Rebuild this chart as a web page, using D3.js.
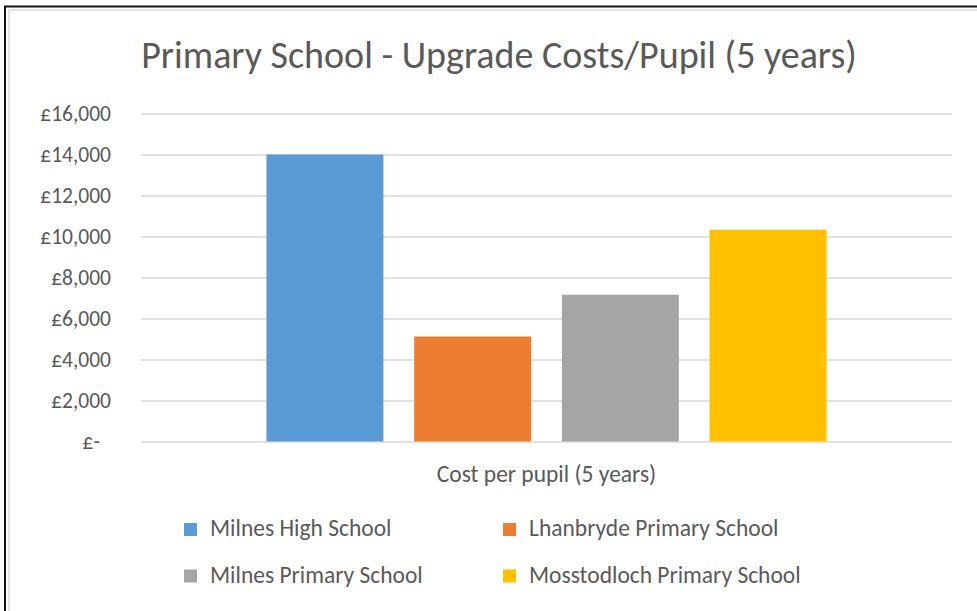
<!DOCTYPE html>
<html>
<head>
<meta charset="utf-8">
<script src="https://cdn.jsdelivr.net/npm/d3@7"></script>
<style>
  html, body { margin: 0; padding: 0; background: #fff; }
  svg { display: block; font-family: Carlito, Calibri, Lato, sans-serif; }
</style>
</head>
<body>
<div id="chart"></div>
<script>
const categories = ["Cost per pupil (5 years)"];
const schools = [
  "Milnes High School",
  "Lhanbryde Primary School",
  "Milnes Primary School",
  "Mosstodloch Primary School",
];
const costs = [14000, 5120, 7160, 10330];
const colors = ["#5B9BD5", "#ED7D31", "#A5A5A5", "#FFC000"];
const yTicks = [0, 2000, 4000, 6000, 8000, 10000, 12000, 14000, 16000];

const W = 977, H = 611;
const M = { top: 113.5, right: 25, bottom: 169.5, left: 141 };
const TEXT = "#595959";

const svg = d3.select("#chart").append("svg")
  .attr("width", W).attr("height", H);

// screenshot frame
svg.append("rect").attr("x", 9).attr("y", 10)
  .attr("width", W).attr("height", H)
  .attr("fill", "none").attr("stroke", "#e3e3e3").attr("stroke-width", 2);
svg.append("path")
  .attr("d", `M5,${H} V6.5 H${W}`)
  .attr("fill", "none").attr("stroke", "#111").attr("stroke-width", 2);

svg.append("text")
  .attr("x", 499)
  .attr("y", 68)
  .attr("text-anchor", "middle")
  .attr("font-size", 38)
  .attr("fill", TEXT)
  .text("Primary School - Upgrade Costs/Pupil (5 years)");

const y = d3.scaleLinear().domain([0, 16000]).range([H - M.bottom, M.top]);
const x0 = d3.scaleBand().domain(categories)
  .range([M.left, W - M.right]).paddingInner(0).paddingOuter(0.224);
const x1 = d3.scaleBand().domain(schools)
  .range([0, x0.bandwidth()]).paddingInner(0.208);

// gridlines
svg.append("g")
  .attr("transform", `translate(${M.left},0)`)
  .call(d3.axisLeft(y).tickValues(yTicks).tickSize(-(W - M.right - M.left)).tickFormat(""))
  .call(g => g.select(".domain").remove())
  .call(g => g.selectAll("line").attr("stroke", "#d9d9d9").attr("stroke-width", 1.5));

// y tick labels
const fmt = d3.format(",");
svg.append("g")
  .attr("transform", `translate(${M.left - 30},0)`)
  .call(d3.axisLeft(y).tickValues(yTicks).tickSize(0).tickPadding(0)
    .tickFormat(d => d === 0 ? "£-" : "£" + fmt(d)))
  .call(g => g.select(".domain").remove())
  .call(g => g.selectAll("text")
    .attr("font-family", "Carlito, Calibri, Lato, sans-serif")
    .attr("font-size", 21.5).attr("fill", TEXT)
    .attr("dx", d => d === 0 ? -11 : 0));

// bars
const groups = svg.append("g").selectAll("g")
  .data(categories).join("g")
  .attr("transform", c => `translate(${x0(c)},0)`);
groups.selectAll("rect")
  .data(() => schools.map((s, i) => ({ s, v: costs[i], c: colors[i] })))
  .join("rect")
  .attr("x", d => x1(d.s))
  .attr("y", d => y(d.v))
  .attr("width", x1.bandwidth())
  .attr("height", d => y(0) - y(d.v))
  .attr("fill", d => d.c);

// category label
svg.append("g").selectAll("text")
  .data(categories).join("text")
  .attr("x", c => x0(c) + x0.bandwidth() / 2)
  .attr("y", 482)
  .attr("text-anchor", "middle")
  .attr("font-size", 23.5)
  .attr("fill", TEXT)
  .text(c => c);

// legend
const legendX = [184, 503];
const legendY = [529.5, 576];
const lg = svg.append("g").selectAll("g")
  .data(schools).join("g")
  .attr("transform", (d, i) => `translate(${legendX[i % 2]},${legendY[Math.floor(i / 2)]})`);
lg.append("rect")
  .attr("x", 0).attr("y", -6.5).attr("width", 13).attr("height", 13)
  .attr("fill", (d, i) => colors[i]);
lg.append("text")
  .attr("x", 26).attr("y", 6.5)
  .attr("font-size", 23.5)
  .attr("fill", TEXT)
  .text(d => d);
</script>
</body>
</html>
